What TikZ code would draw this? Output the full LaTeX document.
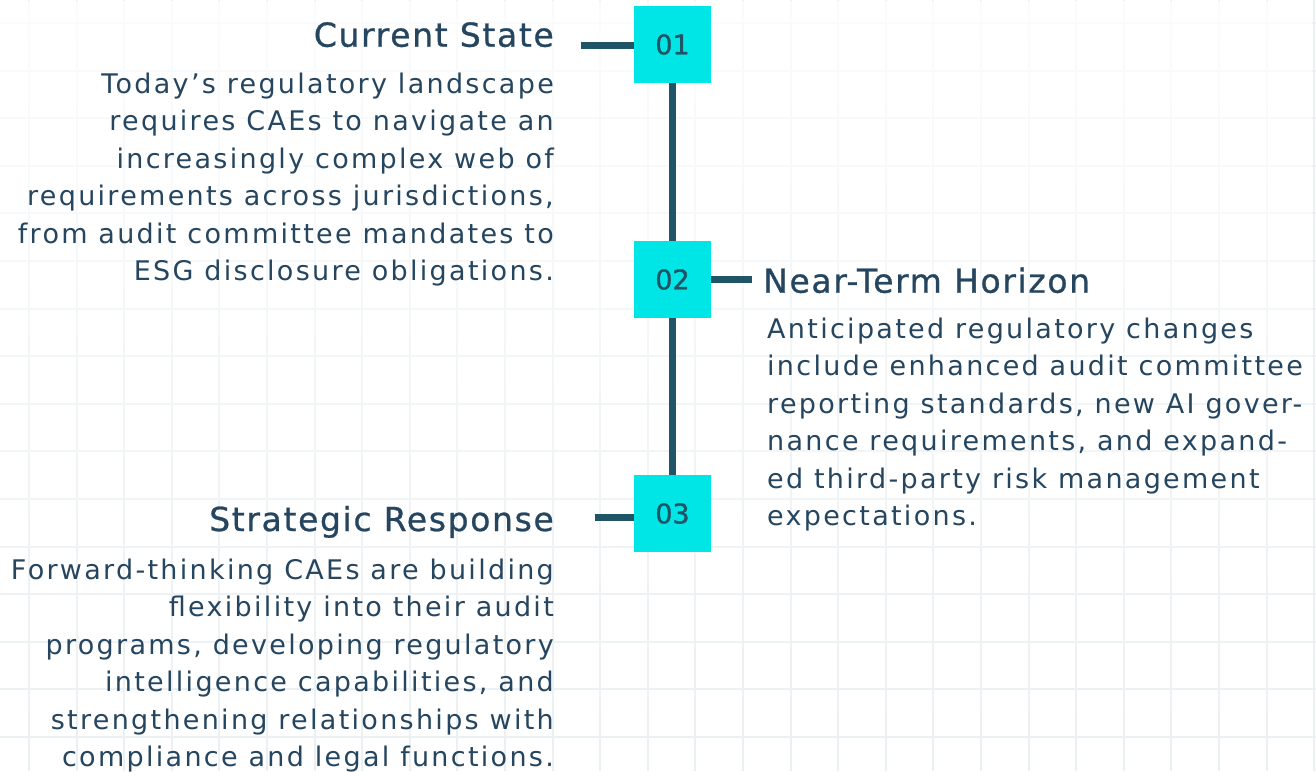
\documentclass[tikz,border=0pt]{standalone}
\usepackage{fontspec}
\setmainfont{DejaVu Sans}
\newfontfamily\bodyfont[LetterSpace=8.5]{DejaVu Sans}
\newfontfamily\headfont[LetterSpace=5,FakeBold=0.8]{DejaVu Sans}
\newfontfamily\numfont[FakeBold=1.2]{DejaVu Sans}
\usetikzlibrary{fadings}
\definecolor{boxcyan}{HTML}{00E6E6}
\definecolor{linkteal}{HTML}{1F5566}
\definecolor{inkblue}{HTML}{264660}
\definecolor{gridgray}{HTML}{EBF0F2}
\tikzset{
  stepbox/.style={fill=boxcyan, minimum size=77pt, inner sep=0pt, text=linkteal, font=\numfont\fontsize{27}{27}\selectfont},
  link/.style={draw=linkteal, line width=7pt},
  heading/.style={text=inkblue, inner sep=0pt, font=\headfont\fontsize{33}{33}\selectfont},
  blurb/.style={text=inkblue, inner sep=0pt, font=\bodyfont\fontsize{27}{37.5}\selectfont},
}
\begin{document}
\begin{tikzpicture}[x=1pt,y=-1pt]
        \useasboundingbox[fill=white] (0,0) rectangle (1316,771);
        \foreach \i in {0,...,27} \draw[gridgray, line width=2pt] (29+47.6*\i,0) -- (29+47.6*\i,771);
        \foreach \j in {0,...,16} \draw[gridgray, line width=2pt] (0,23+47.6*\j) -- (1316,23+47.6*\j);
        \fill[white, path fading=south, fill opacity=0.8] (0,0) rectangle (1316,771);
        \node[stepbox] (n1) at (672.5,44.5) {01};
        \node[stepbox] (n2) at (672.5,279.5) {02};
        \node[stepbox] (n3) at (672.5,513.5) {03};
        \coordinate (c1) at (581,45.5);
        \coordinate (c2) at (752,279);
        \coordinate (c3) at (595,517);
        \draw[link] (n1.south) -- (n2.north);
        \draw[link] (n2.south) -- (n3.north);
        \draw[link] (n1.west |- c1) -- (c1);
        \draw[link] (n2.east |- c2) -- (c2);
        \draw[link] (n3.west |- c3) -- (c3);
        \node[heading, anchor=base east] (t1) at (554,46.7) {Current State};
        \node[blurb, anchor=base east, align=right] (b1) at (554,280.5) {Today’s regulatory landscape\\requires CAEs to navigate an\\increasingly complex web of\\requirements across jurisdictions,\\from audit committee mandates to\\ESG disclosure obligations.};
        \node[heading, anchor=base west] (t2) at (763,292.7) {Near-Term Horizon};
        \node[blurb, anchor=base west, align=left] (b2) at (767,525.8) {Anticipated regulatory changes\\include enhanced audit committee\\reporting standards, new AI gover-\\nance requirements, and expand-\\ed third-party risk management\\expectations.};
        \node[heading, anchor=base east] (t3) at (554,531) {Strategic Response};
        \node[blurb, anchor=base east, align=right] (b3) at (554,766.5) {Forward-thinking CAEs are building\\flexibility into their audit\\programs, developing regulatory\\intelligence capabilities, and\\strengthening relationships with\\compliance and legal functions.};
\end{tikzpicture}
\end{document}
